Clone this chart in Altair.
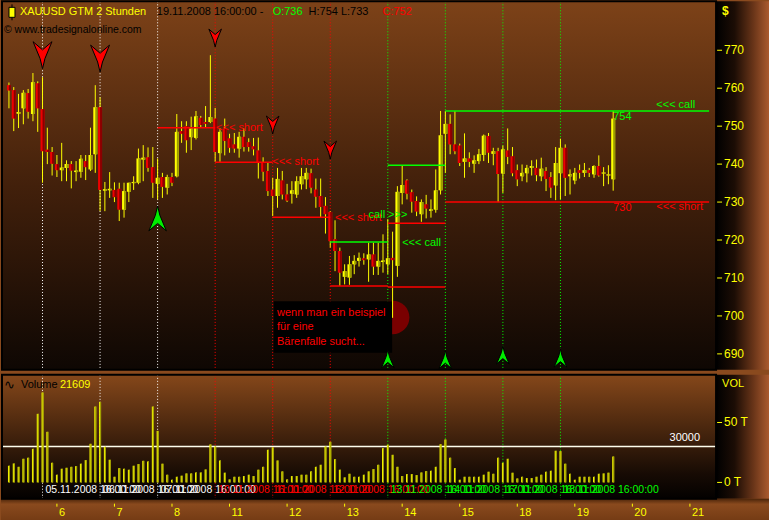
import altair as alt
import pandas as pd

FONT = "Liberation Sans"
YEL = "#ffff00"
RED = "#ff0000"
GRN = "#00ff00"

# ---------------- XAUUSD 2-hour candles, 05.11.2008 - 19.11.2008 ----------------
opens = [760.8, 759.5, 753.3, 754.7, 758.7, 753.2, 761.3, 754.5, 743.8, 743.2,
         740.0, 738.4, 739.0, 740.0, 737.9, 738.0, 740.8, 738.6, 742.6, 755.0,
         733.0, 733.1, 733.2, 733.5, 728.0, 732.7, 735.0, 735.1, 741.2, 741.8,
         739.2, 734.8, 736.6, 733.8, 736.6, 736.8, 748.7, 750.0, 747.1, 746.9,
         752.2, 751.1, 751.1, 752.0, 742.9, 749.4, 746.8, 745.2, 744.1, 747.2,
         745.8, 744.7, 743.6, 740.3, 738.2, 733.3, 731.6, 735.7, 732.0, 732.2,
         732.0, 734.7, 736.0, 737.6, 733.3, 731.6, 729.0, 727.4, 720.2, 717.1,
         710.3, 710.1, 713.6, 714.5, 715.2, 714.9, 716.2, 713.0, 714.2, 713.6,
         715.3, 713.2, 732.4, 735.7, 732.6, 730.3, 726.8, 729.4, 727.7, 728.0,
         733.1, 748.0, 750.6, 745.2, 744.9, 740.6, 741.5, 740.1, 740.8, 742.4,
         747.4, 742.7, 743.4, 737.5, 743.6, 742.1, 738.4, 736.8, 737.6, 739.0,
         739.0, 736.8, 738.2, 736.6, 734.4, 737.6, 744.3, 736.8, 735.7, 738.4,
         737.7, 738.4, 737.3, 739.5, 737.5, 737.0, 736.0]
highs = [761.5, 760.3, 758.5, 759.5, 759.8, 764.0, 761.8, 762.9, 749.6, 744.5,
         742.4, 745.6, 741.0, 740.8, 740.8, 742.4, 742.4, 749.6, 760.8, 757.6,
         735.3, 737.9, 735.2, 735.1, 735.1, 735.1, 736.8, 744.1, 745.0, 744.4,
         744.5, 741.5, 737.7, 737.2, 737.7, 753.2, 751.3, 751.3, 752.5, 754.0,
         752.7, 755.3, 768.7, 754.8, 749.4, 752.0, 748.0, 748.2, 748.5, 749.4,
         746.8, 746.9, 747.0, 741.8, 740.3, 736.4, 739.0, 738.2, 734.8, 735.5,
         736.8, 739.0, 739.0, 738.8, 736.2, 736.2, 731.3, 727.6, 725.2, 718.0,
         713.6, 715.8, 716.0, 716.7, 716.5, 719.3, 719.3, 719.3, 721.5, 725.5,
         722.2, 734.2, 739.5, 736.0, 733.3, 731.5, 730.7, 731.9, 730.7, 738.6,
         754.0, 754.0, 753.1, 754.0, 745.4, 748.1, 743.1, 742.3, 744.0, 747.8,
         748.2, 744.3, 744.3, 744.9, 749.4, 744.5, 739.9, 739.9, 739.8, 741.0,
         741.2, 741.7, 739.2, 737.9, 744.5, 746.7, 745.2, 738.6, 739.0, 739.9,
         740.3, 739.0, 739.7, 742.3, 739.2, 739.7, 754.0]
lows = [754.7, 748.7, 749.5, 750.5, 752.0, 751.3, 748.5, 735.1, 740.0, 737.0,
        736.6, 735.5, 735.5, 733.6, 735.5, 736.4, 735.8, 738.2, 737.7, 727.6,
        727.6, 731.1, 730.0, 725.0, 725.9, 730.0, 733.2, 734.7, 735.5, 738.0,
        731.1, 730.7, 731.1, 732.0, 734.2, 736.5, 745.6, 743.0, 743.7, 746.5,
        749.7, 749.7, 750.8, 740.6, 740.6, 742.3, 743.0, 743.0, 741.7, 743.3,
        743.3, 742.3, 736.2, 735.5, 731.6, 726.3, 728.5, 730.7, 730.0, 729.6,
        731.1, 733.3, 733.4, 732.3, 728.5, 725.9, 721.7, 718.0, 711.8, 707.9,
        708.3, 708.2, 711.0, 713.0, 713.5, 709.0, 710.8, 710.8, 711.4, 711.0,
        699.5, 710.3, 729.4, 730.7, 727.2, 726.3, 724.8, 725.7, 725.9, 727.2,
        732.0, 737.7, 742.6, 742.6, 739.5, 736.4, 739.2, 737.7, 740.0, 740.8,
        740.3, 739.7, 730.0, 732.4, 740.0, 736.8, 734.2, 735.5, 735.2, 737.0,
        735.5, 735.5, 732.9, 731.1, 730.5, 730.7, 731.6, 732.0, 734.7, 736.2,
        736.6, 736.6, 736.4, 736.7, 734.2, 734.7, 733.0]
closes = [759.4, 752.0, 753.7, 758.8, 753.8, 761.6, 754.7, 743.4, 743.2, 740.1,
          738.4, 739.1, 740.0, 738.3, 738.3, 741.4, 739.2, 742.4, 755.0, 733.2,
          733.4, 733.5, 731.3, 728.0, 732.9, 735.1, 735.3, 741.5, 741.7, 739.0,
          735.1, 736.4, 734.0, 736.6, 735.1, 748.5, 748.0, 746.3, 749.4, 752.6,
          750.3, 750.6, 752.4, 743.2, 748.5, 746.1, 744.3, 744.1, 747.2, 744.5,
          744.5, 743.9, 740.3, 738.0, 732.9, 731.6, 736.1, 732.0, 730.4, 733.1,
          735.5, 736.8, 737.7, 733.8, 731.4, 728.7, 726.8, 719.7, 717.1, 711.4,
          711.8, 713.6, 714.5, 715.3, 714.7, 716.2, 713.0, 714.5, 714.6, 715.2,
          714.7, 732.7, 734.5, 732.2, 730.1, 727.5, 730.0, 728.3, 728.1, 733.1,
          747.6, 750.6, 745.2, 743.4, 740.3, 741.5, 740.6, 741.0, 742.6, 747.5,
          743.0, 743.4, 737.4, 743.9, 741.9, 737.6, 736.0, 737.7, 739.0, 739.5,
          737.1, 738.8, 736.1, 733.8, 740.3, 744.3, 736.4, 737.3, 737.7, 737.7,
          738.4, 737.7, 739.5, 737.0, 737.8, 737.3, 752.0]
volumes = [13900, 15800, 13000, 19700, 20600, 28000, 57200, 75000, 42200, 16400,
           6400, 11400, 12200, 13000, 13600, 15600, 18600, 32200, 63300, 67200,
           29700, 18900, 4700, 11900, 11400, 10600, 13900, 15300, 18000, 17500,
           63300, 43000, 15600, 6400, 2200, 4700, 5600, 7500, 7500, 8300,
           8300, 10800, 31700, 30000, 18300, 8100, 2500, 4700, 4700, 5300,
           6400, 5300, 10600, 13000, 27200, 29200, 18300, 9200, 2500, 5300,
           5300, 6400, 6400, 9200, 13000, 14700, 30000, 33900, 19400, 10600,
           4200, 7200, 4700, 4700, 6400, 9200, 11100, 14700, 28600, 31400,
           23000, 13000, 5300, 6900, 6900, 6100, 8300, 9400, 9700, 13000,
           31900, 35800, 20600, 11900, 2200, 4700, 4700, 4700, 4700, 6400,
           8900, 7200, 20600, 16400, 19700, 8100, 3300, 4700, 3600, 3600,
           4700, 6400, 8900, 9700, 26400, 26100, 15600, 7200, 2200, 4700,
           4700, 4700, 4700, 7200, 7500, 8100, 21609]
volume_level = 30000

# daily 16:00 signal bars
sig_idx = [7, 19, 31, 43, 55, 67, 79, 91, 103, 115]
sig_color = ["#ffffff"] * 3 + [RED] * 3 + [GRN] * 4
sig_label = ["05.11.2008 16:00:00", "06.11.2008 16:00:00", "07.11.2008 16:00:00",
             "10.11.2008 16:00:00", "11.11.2008 16:00:00", "12.11.2008 16:00:00",
             "13.11.2008 16:00:00", "14.11.2008 16:00:00", "17.11.2008 16:00:00",
             "18.11.2008 16:00:00"]

# arrows
arrow_idx = [7, 19, 43, 55, 67, 31, 79, 91, 103, 115]
arrow_price = [768.7, 767.8, 773.2, 750.3, 743.7, 725.7, 688.7, 688.5, 689.7, 688.9]
arrow_dir = ["down"] * 5 + ["up"] * 5
arrow_size = [729, 729, 324, 324, 324, 625, 324, 324, 324, 324]

# breakout levels
lvl_start = [31, 43, 55, 67, 79, 79, 91, 67, 79, 91]
lvl_end = [43, 55, 67, 79, 91, 91, 146, 79, 91, 146]
lvl_price = [749.6, 740.5, 726.0, 707.9, 724.4, 707.6, 730.0, 719.5, 739.7, 754.0]
lvl_color = [RED] * 7 + [GRN] * 3

# level notes
note_i = [43.2, 54.9, 68.0, 75.0, 82.0, 135.0, 126.0, 126.0, 135.0]
note_p = [749.5, 740.5, 725.8, 726.6, 719.2, 755.6, 752.3, 728.4, 728.8]
note_text = ["<<< short", "<<< short", "<<< short", "call >>>", "<<< call",
             "<<< call", "754", "730", "<<< short"]
note_color = [RED, RED, RED, GRN, GRN, GRN, GRN, RED, RED]

# comment box
box_lines = ["wenn man ein beispiel", "für eine", "Bärenfalle sucht..."]
box_line_p = [700.8, 697.0, 693.2]

price_ticks = [690, 700, 710, 720, 730, 740, 750, 760, 770]
vol_ticks = [0, 50000]
vol_tick_labels = ["0 T", "50 T"]
day_idx = [10, 22, 34, 46, 58, 70, 82, 94, 106, 118, 130, 142]
day_labels = ["6", "7", "8", "11", "12", "13", "14", "15", "18", "19", "20", "21"]

# ---------------- tables ----------------
df = pd.DataFrame({"i": range(len(opens)), "open": opens, "high": highs,
                   "low": lows, "close": closes, "volume": volumes})
up = df["close"] >= df["open"]
mid = (df["open"] + df["close"]) / 2
half = ((df["close"] - df["open"]).abs() / 2).clip(lower=0.16)
df["b_lo"] = mid - half
df["b_hi"] = mid + half
df["zero"] = 0
df["c_main"] = [YEL if u else "#ee0000" for u in up]
df["c_dark"] = ["#9a9a00" if u else "#8a0000" for u in up]

sig = pd.DataFrame({"i": sig_idx, "c": sig_color, "t": sig_label})
arrows = pd.DataFrame({"i": arrow_idx, "p": arrow_price, "d": arrow_dir, "s": arrow_size})
levels = pd.DataFrame({"i0": lvl_start, "i1": lvl_end, "p": lvl_price, "c": lvl_color})
notes = pd.DataFrame({"i": note_i, "p": note_p, "t": note_text, "c": note_color})
box = pd.DataFrame({"i0": [55.2], "i1": [79.9], "p0": [690.3], "p1": [703.9]})
blob = pd.DataFrame({"i": [80.0], "p": [699.6]})
btxt = pd.DataFrame({"i": [55.9] * 3, "p": box_line_p, "t": box_lines})
pt = pd.DataFrame({"p": price_ticks, "t": [str(v) for v in price_ticks]})
vt = pd.DataFrame({"v": vol_ticks, "t": vol_tick_labels})
vref = pd.DataFrame({"v": [volume_level], "t": [str(volume_level)]})
days = pd.DataFrame({"i": day_idx, "t": day_labels})
one = pd.DataFrame({"k": [0]})

W, PW, H1, H2, HV = 769, 716, 369, 146, 124
xs = alt.Scale(domain=[-0.617, 157.45], nice=False, zero=False)
yp = alt.Scale(domain=[685.79, 782.89], nice=False, zero=False)
yv = alt.Scale(domain=[-31920, 89750], nice=False, zero=False)


def X(f):
    return alt.X(f, type="quantitative", scale=xs, axis=None)


def YP(f):
    return alt.Y(f, type="quantitative", scale=yp, axis=None)


def YV(f):
    return alt.Y(f, type="quantitative", scale=yv, axis=None)


def grad(stops, vertical=True):
    return alt.Gradient(gradient="linear", x1=0, y1=0,
                        x2=0 if vertical else 1, y2=1 if vertical else 0,
                        stops=[alt.GradientStop(offset=o, color=c) for o, c in stops])


def panel_rect(x0, x1, y0, y1, fill):
    return alt.Chart(one).mark_rect(fill=fill).encode(
        x=alt.value(x0), x2=alt.value(x1), y=alt.value(y0), y2=alt.value(y1))


def outline(x0, x1, y0, y1):
    return alt.Chart(one).mark_rect(fill="#000000", fillOpacity=0, stroke="#000000",
                                    strokeWidth=2).encode(
        x=alt.value(x0), x2=alt.value(x1), y=alt.value(y0), y2=alt.value(y1))


def label(txt, x, y, color, size=11, weight="normal"):
    return alt.Chart(one).mark_text(text=txt, align="left", baseline="middle", font=FONT,
                                    fontSize=size, color=color, fontWeight=weight).encode(
        x=alt.value(x), y=alt.value(y))


PANEL_TOP = grad([(0, "#7d4218"), (0.5, "#42200b"), (1, "#0e0703")])
PANEL_VOL = grad([(0, "#85471a"), (0.8, "#170b04"), (1, "#030100")])
STRIP = grad([(0, "#000000"), (0.35, "#1c0d05"), (0.7, "#683418"), (1, "#aa5a2e")], vertical=False)
FOOT = grad([(0, "#4a2409"), (0.25, "#8a4a1e"), (1, "#743b14")])

ARROW_DOWN = "M-0.7,-1L0,-0.4L0.7,-1L0.18,0.25L0,1L-0.18,0.25Z"
ARROW_UP = "M-0.7,1L0,0.4L0.7,1L0.18,-0.25L0,-1L-0.18,-0.25Z"

# ---------------- price panel ----------------
bg = panel_rect(0, PW, 0, H1, PANEL_TOP)
strip = panel_rect(PW, W, 0, H1, STRIP)
frame = outline(1, PW, 0, H1)

vlines = alt.Chart(sig).mark_rule(strokeDash=[1, 2], strokeWidth=1).encode(
    x=X("i"), color=alt.Color("c:N", scale=None), y=alt.value(0), y2=alt.value(H1))

blob_mark = alt.Chart(blob).mark_point(shape="circle", filled=True, size=1134,
                                       color="#7a0000", opacity=1).encode(x=X("i"), y=YP("p"))
box_mark = alt.Chart(box).mark_rect(color="#000000").encode(
    x=X("i0"), x2="i1", y=YP("p0"), y2="p1")
box_text = alt.Chart(btxt).mark_text(align="left", baseline="middle", font=FONT,
                                     fontSize=11, color=RED).encode(
    x=X("i"), y=YP("p"), text="t:N")

wicks = alt.Chart(df).mark_rule(color=YEL, strokeWidth=1).encode(
    x=X("i"), y=YP("low"), y2="high")
bodies = alt.Chart(df).mark_bar(size=4).encode(
    x=X("i"), y=YP("b_lo"), y2="b_hi", color=alt.Color("c_main:N", scale=None))
shades = alt.Chart(df).mark_bar(size=2, xOffset=1).encode(
    x=X("i"), y=YP("b_lo"), y2="b_hi", color=alt.Color("c_dark:N", scale=None))

level_lines = alt.Chart(levels).mark_rule(strokeWidth=1.5).encode(
    x=X("i0"), x2="i1", y=YP("p"), color=alt.Color("c:N", scale=None))
note_marks = alt.Chart(notes).mark_text(align="left", baseline="middle", font=FONT,
                                        fontSize=11).encode(
    x=X("i"), y=YP("p"), text="t:N", color=alt.Color("c:N", scale=None))

down_arrows = alt.Chart(arrows).transform_filter(alt.datum.d == "down").mark_point(
    shape=ARROW_DOWN, filled=True, fill=RED, stroke="#000000", strokeWidth=1, opacity=1).encode(
    x=X("i"), y=YP("p"), size=alt.Size("s:Q", scale=None))
up_arrows = alt.Chart(arrows).transform_filter(alt.datum.d == "up").mark_point(
    shape=ARROW_UP, filled=True, fill="#00ee00", stroke="#000000", strokeWidth=1, opacity=1).encode(
    x=X("i"), y=YP("p"), size=alt.Size("s:Q", scale=None))

p_ticks = alt.Chart(pt).mark_rule(color=YEL, strokeWidth=1).encode(
    x=alt.value(717), x2=alt.value(722), y=YP("p"))
p_labels = alt.Chart(pt).mark_text(align="left", baseline="middle", font=FONT,
                                   fontSize=12, color=YEL).encode(
    x=alt.value(724), y=YP("p"), text="t:N")

icon_wick = alt.Chart(one).mark_rule(color="#000000").encode(
    x=alt.value(11), y=alt.value(3), y2=alt.value(19))
icon_body = alt.Chart(one).mark_rect(color=YEL, stroke="#000000", strokeWidth=1).encode(
    x=alt.value(8), x2=alt.value(14), y=alt.value(6), y2=alt.value(16))

header = [
    label("XAUUSD GTM 2 Stunden", 19, 11, YEL, 11),
    label("19.11.2008 16:00:00 -", 156, 11, "#000000", 11),
    label("O:736", 272, 11, GRN, 11),
    label("H:754 L:733", 308, 11, "#000000", 11),
    label("C:752", 382, 11, RED, 11),
    label("© www.tradesignalonline.com", 3, 29, "#000000", 10.5),
    label("$", 722, 10, YEL, 12, weight="bold"),
]

price_panel = alt.layer(
    bg, strip, vlines, blob_mark, box_mark, wicks, bodies, shades, level_lines,
    box_text, note_marks, down_arrows, up_arrows, p_ticks, p_labels, frame,
    icon_wick, icon_body, *header,
).properties(width=W, height=H1)

# ---------------- volume panel ----------------
vbg = panel_rect(0, PW, 0, HV, PANEL_VOL)
vstrip = panel_rect(PW, W, 0, HV, STRIP)
vfoot = panel_rect(0, W, HV, H2, FOOT)
vframe = outline(1, PW, 0, HV)

v_vlines = alt.Chart(sig).mark_rule(strokeDash=[1, 2], strokeWidth=1).encode(
    x=X("i"), color=alt.Color("c:N", scale=None), y=alt.value(0), y2=alt.value(HV))
v_dates = alt.Chart(sig).mark_text(align="left", baseline="middle", dx=3, font=FONT,
                                   fontSize=10.5).encode(
    x=X("i"), y=alt.value(115), text="t:N", color=alt.Color("c:N", scale=None))

ref_line = alt.Chart(vref).mark_rule(color="#ffffee", strokeWidth=1.5).encode(
    x=alt.value(0), x2=alt.value(PW), y=YV("v"))
ref_text = alt.Chart(vref).mark_text(align="right", baseline="bottom", dy=-3,
                                     font=FONT, fontSize=11, color="#ffffff").encode(
    x=alt.value(700), y=YV("v"), text="t:N")

vbars = alt.Chart(df).mark_bar(size=2, color="#f2f200").encode(
    x=X("i"), y=YV("volume"), y2="zero")
vshade = alt.Chart(df).mark_bar(size=1, xOffset=0.5, color="#9a9a00").encode(
    x=X("i"), y=YV("volume"), y2="zero")

v_ticks = alt.Chart(vt).mark_rule(color=YEL).encode(
    x=alt.value(717), x2=alt.value(722), y=YV("v"))
v_labels = alt.Chart(vt).mark_text(align="left", baseline="middle", font=FONT,
                                   fontSize=12, color=YEL).encode(
    x=alt.value(724), y=YV("v"), text="t:N")

d_ticks = alt.Chart(days).mark_rule(color=YEL).encode(
    x=X("i"), y=alt.value(129), y2=alt.value(132))
d_labels = alt.Chart(days).mark_text(align="left", baseline="middle", dx=2, font=FONT,
                                     fontSize=11, color=YEL).encode(
    x=X("i"), y=alt.value(138.5), text="t:N")

vol_header = [
    label("∿", 3, 10, "#000000", 13),
    label("Volume", 20, 10, "#000000", 11),
    label("21609", 59, 10, YEL, 11),
    label("VOL", 722, 9, YEL, 11),
]

volume_panel = alt.layer(
    vbg, vstrip, vfoot, v_vlines, ref_line, vbars, vshade, ref_text, v_dates,
    v_ticks, v_labels, d_ticks, d_labels, vframe, *vol_header,
).properties(width=W, height=H2)

chart = alt.vconcat(
    price_panel, volume_panel, spacing=5, bounds="flush", padding=0,
    background="#8a4a1e",
).configure_view(stroke=None)

chart.save("out.html", embed_options={"renderer": "svg", "actions": False})
